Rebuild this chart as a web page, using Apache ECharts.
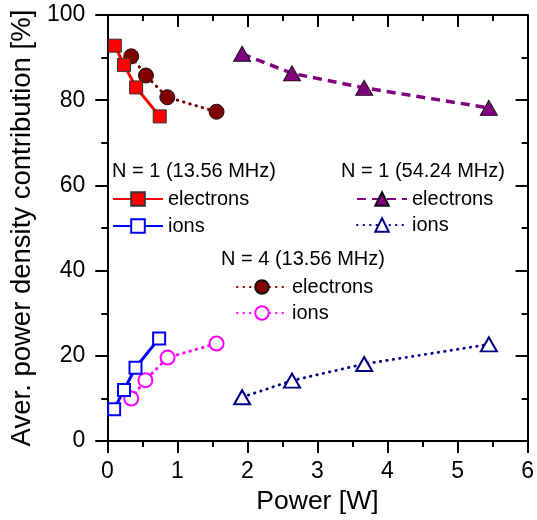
<!DOCTYPE html>
<html>
<head>
<meta charset="utf-8">
<script src="https://cdn.jsdelivr.net/npm/echarts@6/dist/echarts.min.js"></script>
<style>html,body{margin:0;padding:0;background:#fff}#c{width:537px;height:520px}</style>
</head>
<body>
<div id="c"></div>
<script>
// ---- data ----
const xTicks = [0, 1, 2, 3, 4, 5, 6];
const yTicks = [0, 20, 40, 60, 80, 100];

const powerN1f13Electrons = [0.108, 0.239, 0.412, 0.749];
const contribN1f13Electrons = [92.8, 88.3, 83.0, 76.2];
const powerN1f13Ions = [0.098, 0.239, 0.403, 0.740];
const contribN1f13Ions = [7.5, 12.0, 17.2, 24.1];

const powerN4f13Electrons = [0.342, 0.552, 0.857, 1.56];
const contribN4f13Electrons = [90.3, 85.8, 80.7, 77.3];
const powerN4f13Ions = [0.342, 0.544, 0.861, 1.56];
const contribN4f13Ions = [10.0, 14.3, 19.6, 22.9];

const powerN1f54Electrons = [1.925, 2.637, 3.667, 5.447];
const contribN1f54Electrons = [90.9, 86.3, 82.9, 78.2];
const powerN1f54Ions = [1.925, 2.637, 3.667, 5.447];
const contribN1f54Ions = [10.3, 14.2, 18.1, 22.7];

const groupTitles = ['N = 1 (13.56 MHz)', 'N = 1 (54.24 MHz)', 'N = 4 (13.56 MHz)'];
const seriesLabels = {e1: 'electrons', i1: 'ions', e54: 'electrons', i54: 'ions', e4: 'electrons', i4: 'ions'};

function pairs(xs, ys) { return xs.map((x, i) => [x, ys[i]]); }

const FONT = 'Liberation Sans, Arial, sans-serif';
const chart = echarts.init(document.getElementById('c'), null, {renderer: 'canvas'});

const tickStyle = {width: 2, color: '#000'};
const baseAxis = {
  axisLine: {show: true, onZero: false, lineStyle: {color: '#000', width: 2}},
  splitLine: {show: false}
};

const legendCommon = {
  orient: 'vertical', padding: 0, itemWidth: 50, itemHeight: 17,
  textStyle: {fontFamily: FONT, fontSize: 20, color: '#000'},
  formatter: n => seriesLabels[n], selectedMode: false
};
const titleText = {fontFamily: FONT, fontSize: 20, fontWeight: 'normal', color: '#000'};

const option = {
  animation: false,
  backgroundColor: '#fff',
  grid: {left: 104, right: 6, top: 15, bottom: 77},
  title: [
    {text: groupTitles[0], left: 112, top: 161, padding: 0, textStyle: titleText},
    {text: groupTitles[1], left: 341, top: 161, padding: 0, textStyle: titleText},
    {text: groupTitles[2], left: 221, top: 249, padding: 0, textStyle: titleText}
  ],
  legend: [
    Object.assign({}, legendCommon, {left: 112, top: 189, itemGap: 7, data: ['e1', 'i1']}),
    Object.assign({}, legendCommon, {left: 356, top: 189, itemGap: 6, data: ['e54', 'i54']}),
    Object.assign({}, legendCommon, {left: 236, top: 277, itemGap: 6, data: ['e4', 'i4']})
  ],
  xAxis: [
    Object.assign({}, baseAxis, {
      type: 'value', position: 'bottom', min: xTicks[0], max: xTicks[xTicks.length - 1], interval: 1,
      name: 'Power [W]', nameLocation: 'middle', nameGap: 45,
      nameTextStyle: {fontFamily: FONT, fontSize: 26.5, color: '#000'},
      axisTick: {show: true, inside: false, length: 12, lineStyle: tickStyle},
      minorTick: {show: true, splitNumber: 2, length: 6, lineStyle: tickStyle},
      axisLabel: {fontFamily: FONT, fontSize: 23, color: '#000', margin: 19}
    }),
    Object.assign({}, baseAxis, {
      type: 'value', position: 'top', min: 0, max: 6, interval: 1,
      axisTick: {show: true, inside: true, length: 12, lineStyle: tickStyle},
      minorTick: {show: true, splitNumber: 2, length: 6, lineStyle: tickStyle},
      axisLabel: {show: false}
    })
  ],
  yAxis: [
    Object.assign({}, baseAxis, {
      type: 'value', position: 'left', min: yTicks[0], max: yTicks[yTicks.length - 1], interval: 20,
      name: 'Aver. power density contribution [%]', nameLocation: 'middle', nameGap: 63,
      nameTextStyle: {fontFamily: FONT, fontSize: 27.5, color: '#000'},
      axisTick: {show: true, inside: false, length: 12, lineStyle: tickStyle},
      minorTick: {show: true, splitNumber: 2, length: 6, lineStyle: tickStyle},
      axisLabel: {fontFamily: FONT, fontSize: 23, color: '#000', margin: 22}
    }),
    Object.assign({}, baseAxis, {
      type: 'value', position: 'right', min: 0, max: 100, interval: 20,
      axisTick: {show: true, inside: true, length: 12, lineStyle: tickStyle},
      minorTick: {show: true, splitNumber: 2, length: 6, lineStyle: tickStyle},
      axisLabel: {show: false}
    })
  ],
  series: [
    {name: 'e1', type: 'line', data: pairs(powerN1f13Electrons, contribN1f13Electrons),
     symbol: 'rect', symbolSize: 13,
     itemStyle: {color: '#ff0000', borderColor: '#333', borderWidth: 1},
     lineStyle: {color: '#ff0000', width: 3, type: 'solid'}, z: 3},
    {name: 'i1', type: 'line', data: pairs(powerN1f13Ions, contribN1f13Ions),
     symbol: 'rect', symbolSize: 12,
     itemStyle: {color: '#fff', borderColor: '#0000ff', borderWidth: 2},
     lineStyle: {color: '#0000ff', width: 3, type: 'solid'}, z: 3},
    {name: 'e54', type: 'line', data: pairs(powerN1f54Electrons, contribN1f54Electrons),
     symbol: 'triangle', symbolSize: [17, 15],
     itemStyle: {color: '#800080', borderColor: '#111', borderWidth: 1},
     lineStyle: {color: '#800080', width: 3.5, type: [9, 6]}, z: 2},
    {name: 'i54', type: 'line', data: pairs(powerN1f54Ions, contribN1f54Ions),
     symbol: 'triangle', symbolSize: [16, 14],
     itemStyle: {color: '#fff', borderColor: '#000080', borderWidth: 2},
     lineStyle: {color: '#000080', width: 2.8, type: [0.5, 6], cap: 'round'}, z: 2},
    {name: 'e4', type: 'line', data: pairs(powerN4f13Electrons, contribN4f13Electrons),
     symbol: 'circle', symbolSize: 15,
     itemStyle: {color: '#800000', borderColor: '#111', borderWidth: 1},
     lineStyle: {color: '#800000', width: 3, type: [0.5, 6], cap: 'round'}, z: 2},
    {name: 'i4', type: 'line', data: pairs(powerN4f13Ions, contribN4f13Ions),
     symbol: 'circle', symbolSize: 14,
     itemStyle: {color: '#fff', borderColor: '#ff00ff', borderWidth: 2},
     lineStyle: {color: '#ff00ff', width: 3, type: [0.5, 6], cap: 'round'}, z: 2}
  ]
};
chart.setOption(option);
</script>
</body>
</html>
